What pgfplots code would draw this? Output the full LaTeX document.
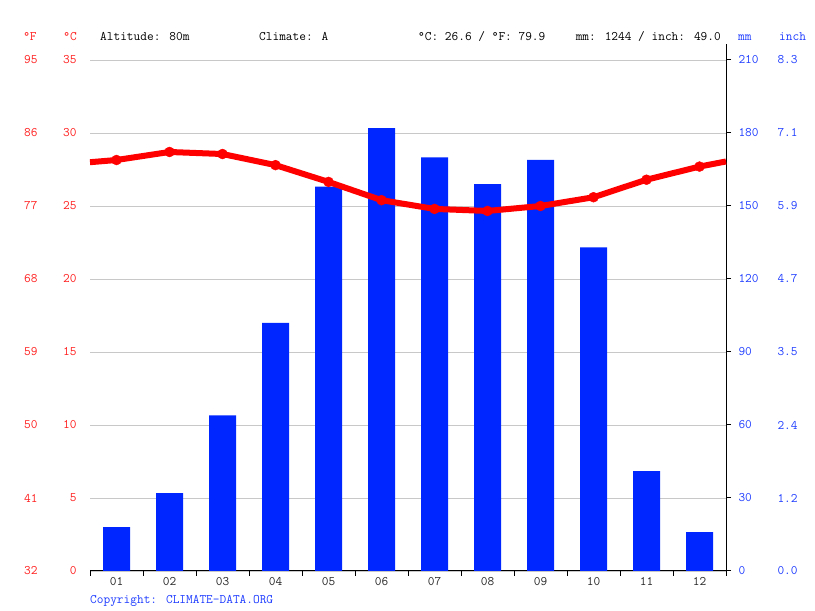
\documentclass[border=0pt]{standalone}
\usepackage{fontspec}
\usepackage{pgfplots}
\pgfplotsset{compat=1.18}
\definecolor{cdred}{RGB}{255,0,0}
\definecolor{cdlabred}{RGB}{255,30,30}
\definecolor{cdblue}{RGB}{0,38,255}
\definecolor{cdlabblue}{RGB}{30,60,255}
\definecolor{cdgrid}{RGB}{200,200,200}
\newcommand{\cdfont}{\fontsize{13}{15}\ttfamily}

% precipitation, mm
\pgfplotstableread{
m mm
1 18
2 32
3 64
4 102
5 158
6 182
7 170
8 159
9 169
10 133
11 41
12 16
}\rain

% temperature, degrees C (edge points at 0.5 and 12.5)
\pgfplotstableread{
m t
0.5 28.0
1 28.15
2 28.7
3 28.56
4 27.8
5 26.65
6 25.4
7 24.8
8 24.66
9 25.0
10 25.6
11 26.8
12 27.7
12.5 28.05
}\temp

\pgfplotsset{
  cdbase/.style={
    at={(90pt,40pt)}, anchor=south west,
    scale only axis, width=636pt, height=511pt,
    xmin=0.5, xmax=12.5,
    ticklabel style={font=\cdfont},
    /pgf/number format/assume math mode=true,
    clip=false,
  },
  cdhidden/.style={
    axis line style={draw=none}, tick style={draw=none},
    xtick=\empty,
  },
}

\begin{document}
\begin{tikzpicture}[x=1pt,y=1pt]
\path[use as bounding box] (0,0) rectangle (815,611);

% bars, mm axis, grid, bottom axis
\begin{axis}[cdbase,
  ymin=0, ymax=210,
  axis x line*=bottom, axis y line*=right,
  xtick={0.5,1.5,...,12.5}, xticklabels={},
  ytick={0,30,...,210},
  yticklabel style={text=cdlabblue, anchor=west, xshift=4pt},
  tick align=outside, major tick length=5pt,
  ymajorgrids, grid style={cdgrid, line width=0.8pt},
  axis line style={line width=1pt, -},
  tick style={black, line width=1pt},
]
\addplot[ybar, bar width=27pt, fill=cdblue, draw=none] table[x=m, y=mm] {\rain};
\draw[black, line width=1pt] (axis cs:12.5,210) -- ([yshift=16pt]axis cs:12.5,210);
\end{axis}

% inch labels
\begin{axis}[cdbase, cdhidden,
  ymin=0, ymax=210, axis y line*=right,
  ytick={0,30,...,210},
  yticklabels={0.0,1.2,2.4,3.5,4.7,5.9,7.1,8.3},
  yticklabel style={text=cdlabblue, anchor=west, xshift=48pt},
]
\end{axis}

% fahrenheit labels
\begin{axis}[cdbase, cdhidden,
  ymin=32, ymax=95, axis y line*=left,
  ytick={32,41,...,95},
  yticklabel style={text=cdlabred, anchor=east, xshift=-49pt},
]
\end{axis}

% temperature, celsius labels, month labels
\begin{axis}[cdbase,
  ymin=0, ymax=35, axis y line*=left, axis x line*=bottom,
  axis line style={draw=none}, tick style={draw=none},
  ytick={0,5,...,35},
  yticklabel style={text=cdlabred, anchor=east, xshift=-10pt},
  xtick={1,...,12},
  xticklabels={01,02,03,04,05,06,07,08,09,10,11,12},
  xticklabel style={text=black!85, yshift=-3pt},
]
\addplot[cdred, line width=6pt, no marks, line join=round] table[x=m, y=t] {\temp};
\addplot[cdred, only marks, mark=*, mark size=5pt, mark options={fill=cdred, draw=none}]
  table[x=m, y=t, skip coords between index={0}{1}, skip coords between index={13}{14}] {\temp};
\end{axis}

% header and footer texts
\node[font=\cdfont, text=cdlabred, anchor=base] at (30,570) {°F};
\node[font=\cdfont, text=cdlabred, anchor=base] at (70,570) {°C};
\node[font=\cdfont, anchor=base west, inner sep=0] at (100,570) {Altitude: 80m};
\node[font=\cdfont, anchor=base west, inner sep=0] at (259,570) {Climate: A};
\node[font=\cdfont, anchor=base west, inner sep=0] at (418,570) {°C: 26.6 / °F: 79.9};
\node[font=\cdfont, anchor=base east, inner sep=0] at (721,570) {mm: 1244 / inch: 49.0};
\node[font=\cdfont, text=cdlabblue, anchor=base west, inner sep=0] at (738,570) {mm};
\node[font=\cdfont, text=cdlabblue, anchor=base west, inner sep=0] at (779,570) {inch};
\node[font=\cdfont, text=cdlabblue, anchor=base west, inner sep=0] at (90,7) {Copyright: CLIMATE-DATA.ORG};
\end{tikzpicture}
\end{document}
